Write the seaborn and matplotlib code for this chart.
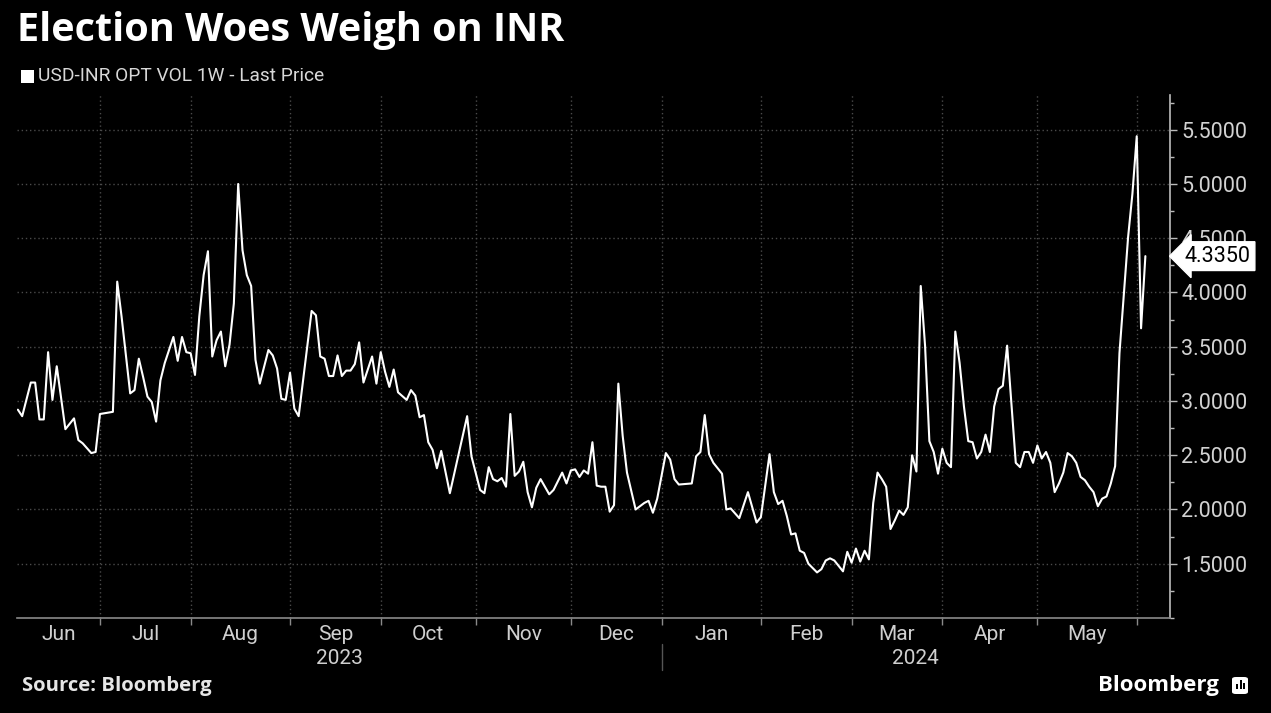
import numpy as np
import pandas as pd
import matplotlib
matplotlib.use("Agg")
import matplotlib.pyplot as plt
from matplotlib.patches import Rectangle, FancyBboxPatch
from matplotlib.ticker import MultipleLocator, FuncFormatter
from matplotlib.transforms import blended_transform_factory
import seaborn as sns

# USD-INR 1W option vol, business days
dates = [
    "2023-06-06", "2023-06-07", "2023-06-09", "2023-06-12", "2023-06-13", "2023-06-14",
    "2023-06-15", "2023-06-16", "2023-06-19", "2023-06-21", "2023-06-23", "2023-06-26",
    "2023-06-27", "2023-06-29", "2023-06-30", "2023-07-03", "2023-07-06", "2023-07-07",
    "2023-07-10", "2023-07-12", "2023-07-13", "2023-07-14", "2023-07-17", "2023-07-18",
    "2023-07-19", "2023-07-20", "2023-07-21", "2023-07-24", "2023-07-26", "2023-07-27",
    "2023-07-28", "2023-07-31", "2023-08-01", "2023-08-02", "2023-08-03", "2023-08-04",
    "2023-08-07", "2023-08-08", "2023-08-09", "2023-08-10", "2023-08-11", "2023-08-14",
    "2023-08-15", "2023-08-16", "2023-08-17", "2023-08-18", "2023-08-21", "2023-08-22",
    "2023-08-23", "2023-08-25", "2023-08-28", "2023-08-29", "2023-08-30", "2023-08-31",
    "2023-09-01", "2023-09-04", "2023-09-05", "2023-09-08", "2023-09-11", "2023-09-12",
    "2023-09-13", "2023-09-14", "2023-09-15", "2023-09-18", "2023-09-19", "2023-09-20",
    "2023-09-21", "2023-09-22", "2023-09-25", "2023-09-26", "2023-09-28", "2023-09-29",
    "2023-10-02", "2023-10-03", "2023-10-04", "2023-10-05", "2023-10-06", "2023-10-10",
    "2023-10-11", "2023-10-12", "2023-10-13", "2023-10-16", "2023-10-17", "2023-10-18",
    "2023-10-19", "2023-10-20", "2023-10-24", "2023-10-30", "2023-10-31", "2023-11-02",
    "2023-11-03", "2023-11-06", "2023-11-07", "2023-11-08", "2023-11-09", "2023-11-10",
    "2023-11-13", "2023-11-14", "2023-11-15", "2023-11-16", "2023-11-17", "2023-11-20",
    "2023-11-21", "2023-11-22", "2023-11-23", "2023-11-24", "2023-11-27", "2023-11-29",
    "2023-11-30", "2023-12-01", "2023-12-04", "2023-12-05", "2023-12-06", "2023-12-07",
    "2023-12-08", "2023-12-11", "2023-12-12", "2023-12-13", "2023-12-14", "2023-12-15",
    "2023-12-18", "2023-12-19", "2023-12-20", "2023-12-22", "2023-12-25", "2023-12-26",
    "2023-12-27", "2023-12-28", "2023-12-29", "2024-01-02", "2024-01-03", "2024-01-04",
    "2024-01-05", "2024-01-10", "2024-01-11", "2024-01-12", "2024-01-15", "2024-01-16",
    "2024-01-17", "2024-01-19", "2024-01-22", "2024-01-23", "2024-01-25", "2024-01-29",
    "2024-01-31", "2024-02-01", "2024-02-05", "2024-02-06", "2024-02-07", "2024-02-08",
    "2024-02-09", "2024-02-12", "2024-02-13", "2024-02-14", "2024-02-15", "2024-02-16",
    "2024-02-20", "2024-02-21", "2024-02-22", "2024-02-23", "2024-02-26", "2024-02-28",
    "2024-02-29", "2024-03-01", "2024-03-04", "2024-03-05", "2024-03-06", "2024-03-07",
    "2024-03-08", "2024-03-11", "2024-03-12", "2024-03-13", "2024-03-14", "2024-03-15",
    "2024-03-18", "2024-03-19", "2024-03-20", "2024-03-21", "2024-03-22", "2024-03-25",
    "2024-03-26", "2024-03-27", "2024-03-28", "2024-03-29", "2024-04-01", "2024-04-02",
    "2024-04-03", "2024-04-04", "2024-04-05", "2024-04-08", "2024-04-09", "2024-04-10",
    "2024-04-11", "2024-04-12", "2024-04-15", "2024-04-16", "2024-04-17", "2024-04-18",
    "2024-04-19", "2024-04-22", "2024-04-24", "2024-04-25", "2024-04-26", "2024-04-29",
    "2024-04-30", "2024-05-01", "2024-05-02", "2024-05-03", "2024-05-06", "2024-05-07",
    "2024-05-08", "2024-05-09", "2024-05-10", "2024-05-13", "2024-05-14", "2024-05-15",
    "2024-05-16", "2024-05-17", "2024-05-20", "2024-05-21", "2024-05-22", "2024-05-23",
    "2024-05-24", "2024-05-27", "2024-05-28", "2024-05-30", "2024-05-31", "2024-06-03",
    "2024-06-04", "2024-06-05",
]
vol = [
    2.92, 2.86, 3.17, 3.17, 2.83, 2.83,
    3.45, 3.01, 3.32, 2.74, 2.84, 2.64,
    2.61, 2.52, 2.53, 2.88, 2.90, 4.10,
    3.78, 3.07, 3.10, 3.39, 3.22, 3.04,
    2.99, 2.81, 3.19, 3.35, 3.59, 3.37,
    3.59, 3.45, 3.44, 3.24, 3.78, 4.16,
    4.38, 3.41, 3.56, 3.64, 3.32, 3.52,
    3.90, 5.00, 4.39, 4.16, 4.06, 3.38,
    3.16, 3.47, 3.42, 3.30, 3.02, 3.01,
    3.26, 2.93, 2.86, 3.83, 3.79, 3.41,
    3.39, 3.23, 3.23, 3.42, 3.23, 3.28,
    3.28, 3.34, 3.54, 3.17, 3.41, 3.16,
    3.45, 3.27, 3.13, 3.29, 3.08, 3.01,
    3.10, 3.05, 2.85, 2.87, 2.62, 2.55,
    2.38, 2.54, 2.15, 2.86, 2.49, 2.18,
    2.15, 2.39, 2.28, 2.26, 2.29, 2.21,
    2.88, 2.31, 2.35, 2.44, 2.16, 2.02,
    2.20, 2.28, 2.21, 2.14, 2.18, 2.34,
    2.24, 2.36, 2.37, 2.30, 2.36, 2.33,
    2.62, 2.22, 2.21, 2.21, 1.98, 2.04,
    3.16, 2.68, 2.34, 2.00, 2.03, 2.06,
    2.08, 1.97, 2.10, 2.52, 2.46, 2.28,
    2.23, 2.24, 2.49, 2.53, 2.87, 2.51,
    2.43, 2.33, 2.00, 2.01, 1.92, 2.16,
    1.88, 1.93, 2.51, 2.16, 2.05, 2.08,
    1.94, 1.77, 1.78, 1.62, 1.60, 1.50,
    1.42, 1.45, 1.53, 1.55, 1.53, 1.43,
    1.61, 1.51, 1.64, 1.52, 1.62, 1.54,
    2.06, 2.34, 2.28, 2.21, 1.82, 1.90,
    1.99, 1.95, 2.02, 2.50, 2.35, 4.06,
    3.51, 2.63, 2.53, 2.33, 2.56, 2.43,
    2.39, 3.64, 3.35, 2.95, 2.63, 2.62,
    2.47, 2.53, 2.69, 2.53, 2.95, 3.11,
    3.14, 3.51, 2.43, 2.39, 2.53, 2.53,
    2.43, 2.59, 2.47, 2.53, 2.43, 2.16,
    2.24, 2.34, 2.52, 2.49, 2.43, 2.30,
    2.27, 2.21, 2.16, 2.03, 2.10, 2.12,
    2.24, 2.40, 3.44, 4.51, 4.91, 5.44,
    3.67, 4.335,
]
month_labels = ["Jun", "Jul", "Aug", "Sep", "Oct", "Nov", "Dec",
                "Jan", "Feb", "Mar", "Apr", "May"]
year_labels = ["2023", "2024"]
y_ticks = [1.5, 2.0, 2.5, 3.0, 3.5, 4.0, 4.5, 5.0, 5.5]
series_name = "USD-INR OPT VOL 1W - Last Price"
last_price = 4.335

sns.set_theme(style="dark", rc={
    "figure.facecolor": "black",
    "axes.facecolor": "black",
    "savefig.facecolor": "black",
    "text.color": "white",
})
plt.rcParams["font.family"] = ["Roboto", "DejaVu Sans"]

# Bloomberg-style trading-day axis: x = business days since the first print
start = np.datetime64(dates[0])
df = pd.DataFrame({"date": pd.to_datetime(dates), "vol": vol})
df["bday"] = np.busday_count(start, np.array(dates, dtype="datetime64[D]"))

W, H = 1271, 713
fig = plt.figure(figsize=(W / 100, H / 100), dpi=100)
ax = fig.add_axes([17 / W, 1 - 618 / H, (1170 - 17) / W, (618 - 95) / H])

sns.lineplot(data=df, x="bday", y="vol", ax=ax, color="white", linewidth=1.5)

xlo, xhi = -0.2, 266.7
ax.set_xlim(xlo, xhi)
ax.set_ylim(1.0, 5.82)
ax.set_xlabel("")
ax.set_ylabel("")

# month boundaries (first business day), labels centred on each month
month_starts = pd.date_range("2023-07-01", "2024-06-30", freq="BMS").values.astype("datetime64[D]")
month_pos = np.busday_count(start, month_starts)
edges = np.concatenate([[xlo], month_pos])
mid = (edges[:-1] + edges[1:]) / 2
ax.set_xticks(month_pos)
ax.set_xticklabels([])
ax.set_xticks(mid, minor=True)
ax.set_xticklabels(month_labels, minor=True)
ax.tick_params(axis="x", which="major", length=5, width=1, color="#8a8a8a", direction="out", bottom=True)
ax.tick_params(axis="x", which="minor", length=0, labelsize=15, labelcolor="#cfcfcf", pad=5)

ax.yaxis.tick_right()
ax.set_yticks(y_ticks)
ax.yaxis.set_minor_locator(MultipleLocator(0.25))
ax.yaxis.set_major_formatter(FuncFormatter(lambda v, p: f"{v:.4f}"))
ax.tick_params(axis="y", which="major", length=5, width=1, color="#bbbbbb", right=True,
               labelsize=15.5, labelcolor="#d2d2d2", pad=3)
ax.tick_params(axis="y", which="minor", length=3, width=1, color="#bbbbbb", right=True)

ax.grid(which="major", axis="both", color="#4a4a4a", linestyle=(0, (1, 2)), linewidth=1)
for side in ["top", "left"]:
    ax.spines[side].set_visible(False)
ax.spines["right"].set_color("#bdbdbd")
ax.spines["right"].set_linewidth(1.2)
ax.spines["bottom"].set_color("#8a8a8a")
ax.spines["bottom"].set_linewidth(1.2)

# year labels + separator at the turn of the year
trans = blended_transform_factory(ax.transData, ax.transAxes)
nj = np.busday_count(start, np.datetime64("2024-01-01"))
ax.text((xlo + nj) / 2, -40 / 523, year_labels[0], transform=trans, ha="center", va="center",
        fontsize=15, color="#cfcfcf")
ax.text((nj + xhi) / 2, -40 / 523, year_labels[1], transform=trans, ha="center", va="center",
        fontsize=15, color="#cfcfcf")
ax.plot([nj, nj], [-26 / 523, -52 / 523], transform=trans, color="#555555", lw=1, clip_on=False)

# last price tag
tag = blended_transform_factory(ax.transAxes, ax.transData)
ax.text(1.013, last_price, f"{last_price:.4f}", transform=tag, ha="left", va="center",
        fontsize=15.5, color="black", zorder=5,
        bbox=dict(boxstyle="larrow,pad=0.18", fc="white", ec="white"))

# header
fig.text(17 / W, 1 - 31 / H, "Election Woes Weigh on INR", fontsize=28.5, fontweight="bold",
         family=["Open Sans", "DejaVu Sans"], color="white", va="center")
fig.patches.append(Rectangle((21 / W, 1 - 83 / H), 13 / W, 13 / H, transform=fig.transFigure,
                             facecolor="white", edgecolor="none"))
fig.text(38 / W, 1 - 76 / H, series_name, fontsize=13.8, color="#d8d8d8", va="center")

# footer
fig.text(22 / W, 1 - 686 / H, "Source: Bloomberg", fontsize=14.6, fontweight="bold",
         family=["Open Sans", "DejaVu Sans"], color="#e6e6e6", va="center")
fig.text(1219 / W, 1 - 685 / H, "Bloomberg", fontsize=16, fontweight="bold",
         family=["Open Sans", "DejaVu Sans"], color="white", va="center", ha="right")
fig.patches.append(FancyBboxPatch((1232 / W, 1 - 694 / H), 16 / W, 17 / H,
                                  boxstyle="round,pad=0,rounding_size=0.003",
                                  transform=fig.transFigure, facecolor="white", edgecolor="none"))
for bx, bh in [(1236, 5), (1239.5, 9), (1243, 6)]:
    fig.patches.append(Rectangle((bx / W, 1 - 689 / H), 2 / W, bh / H, transform=fig.transFigure,
                                 facecolor="black", edgecolor="none"))

fig.savefig("out.png", dpi=100, facecolor="black")
